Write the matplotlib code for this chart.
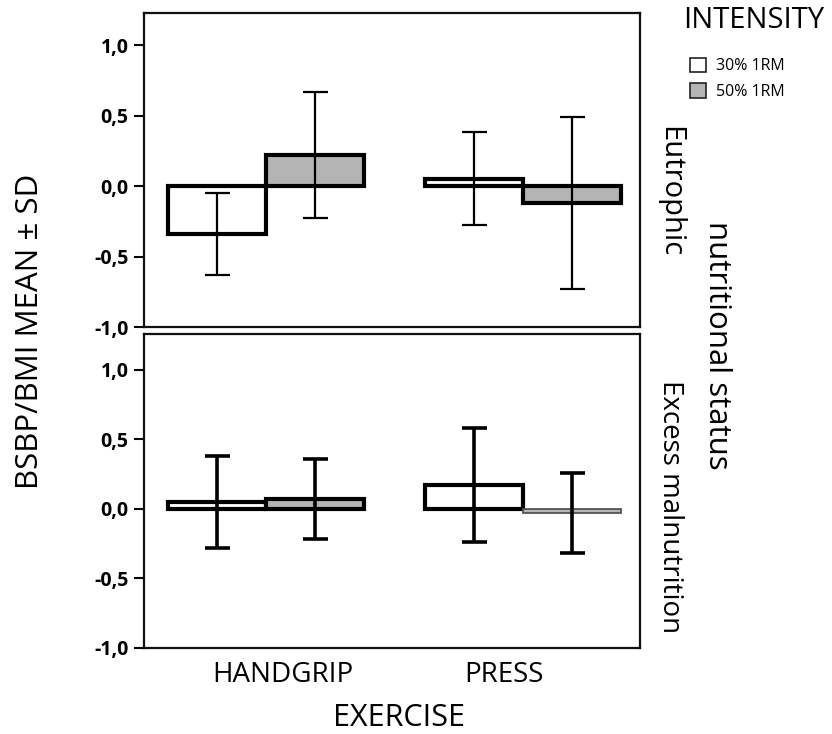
import matplotlib
matplotlib.use("Agg")
import matplotlib.pyplot as plt
import matplotlib.transforms as mtransforms
from matplotlib.patches import Patch
import numpy as np

plt.rcParams['font.family'] = ['Open Sans', 'DejaVu Sans']

# ---- data ----
exercises = ["HANDGRIP", "PRESS"]
intensities = ["30% 1RM", "50% 1RM"]
panels = ["Eutrophic", "Excess malnutrition"]

eutro_30_mean = [-0.34, 0.05]
eutro_30_sd = [0.29, 0.33]
eutro_50_mean = [0.22, -0.12]
eutro_50_sd = [0.45, 0.61]

excess_30_mean = [0.05, 0.17]
excess_30_sd = [0.33, 0.41]
excess_50_mean = [0.07, -0.03]
excess_50_sd = [0.29, 0.29]

yticks = [-1.0, -0.5, 0.0, 0.5, 1.0]
ytick_labels = ["-1,0", "-0,5", "0,0", "0,5", "1,0"]

# ---- figure ----
W, H = 832, 734
fig = plt.figure(figsize=(W / 100, H / 100), dpi=100)

def frac(x0, y0, x1, y1):
    return [x0 / W, 1 - y1 / H, (x1 - x0) / W, (y1 - y0) / H]

ax_top = fig.add_axes(frac(144, 13, 640, 327))
ax_bot = fig.add_axes(frac(144, 334, 640, 648))

gray = "#b4b4b4"
bw = 0.38
x = np.arange(len(exercises))

def draw(ax, m30, s30, m50, s50, ylim_top, elw, last_thin=False):
    ax.bar(x - bw / 2, m30, width=bw, color="white", edgecolor="black",
           linewidth=3.0, zorder=2)
    ec = ["black", "#555555"] if last_thin else ["black", "black"]
    lw = [3.0, 1.3] if last_thin else [3.0, 3.0]
    for i in range(len(x)):
        ax.bar(x[i] + bw / 2, m50[i], width=bw, color=gray, edgecolor=ec[i],
               linewidth=lw[i], zorder=2)
    ax.errorbar(x - bw / 2, m30, yerr=s30, fmt="none", ecolor="black",
                elinewidth=elw, capsize=9, capthick=elw, zorder=3)
    ax.errorbar(x + bw / 2, m50, yerr=s50, fmt="none", ecolor="black",
                elinewidth=elw, capsize=9, capthick=elw, zorder=3)
    ax.set_xlim(-0.475, 1.455)
    ax.set_ylim(-1.0, ylim_top)
    ax.set_yticks(yticks)
    ax.set_yticklabels(ytick_labels, fontsize=14, fontweight="bold")
    ax.tick_params(axis="y", direction="out", length=7, width=1.5, pad=4)
    for sp in ax.spines.values():
        sp.set_linewidth(1.6)
        sp.set_color("#111111")

draw(ax_top, eutro_30_mean, eutro_30_sd, eutro_50_mean, eutro_50_sd, 1.227, 1.6)
draw(ax_bot, excess_30_mean, excess_30_sd, excess_50_mean, excess_50_sd, 1.257, 2.6,
     last_thin=True)

ax_top.set_xticks([])
ax_bot.set_xticks(x)
ax_bot.set_xticklabels(exercises, fontsize=20)
ax_bot.tick_params(axis="x", length=0, pad=9)
offs = [17, -19]
for lab, dx in zip(ax_bot.get_xticklabels(), offs):
    lab.set_transform(lab.get_transform() +
                      mtransforms.ScaledTranslation(dx / 100, 0, fig.dpi_scale_trans))

# labels
fig.text(399 / W, 1 - 718 / H, "EXERCISE", fontsize=22, ha="center", va="center")
fig.text(30 / W, 1 - 331 / H, "BSBP/BMI MEAN ± SD", fontsize=22.5, rotation=90,
         ha="center", va="center")
fig.text(670 / W, 1 - 192 / H, panels[0], fontsize=21, rotation=270,
         ha="center", va="center")
fig.text(670 / W, 1 - 507 / H, panels[1], fontsize=20, rotation=270,
         ha="center", va="center")
fig.text(717 / W, 1 - 345 / H, "nutritional status", fontsize=22.5, rotation=270,
         ha="center", va="center")

# legend
fig.text(754 / W, 1 - 21 / H, "INTENSITY", fontsize=21, ha="center", va="center")
handles = [Patch(facecolor="white", edgecolor="#222222", linewidth=1.2),
           Patch(facecolor=gray, edgecolor="#222222", linewidth=1.2)]
fig.legend(handles, intensities, loc="upper left",
           bbox_to_anchor=(688 / W, 1 - 56 / H), frameon=False, fontsize=11.5,
           handlelength=1.05, handleheight=1.05, handletextpad=0.6, labelspacing=0.55,
           borderaxespad=0, borderpad=0.1)

fig.savefig("out.png", dpi=100)
